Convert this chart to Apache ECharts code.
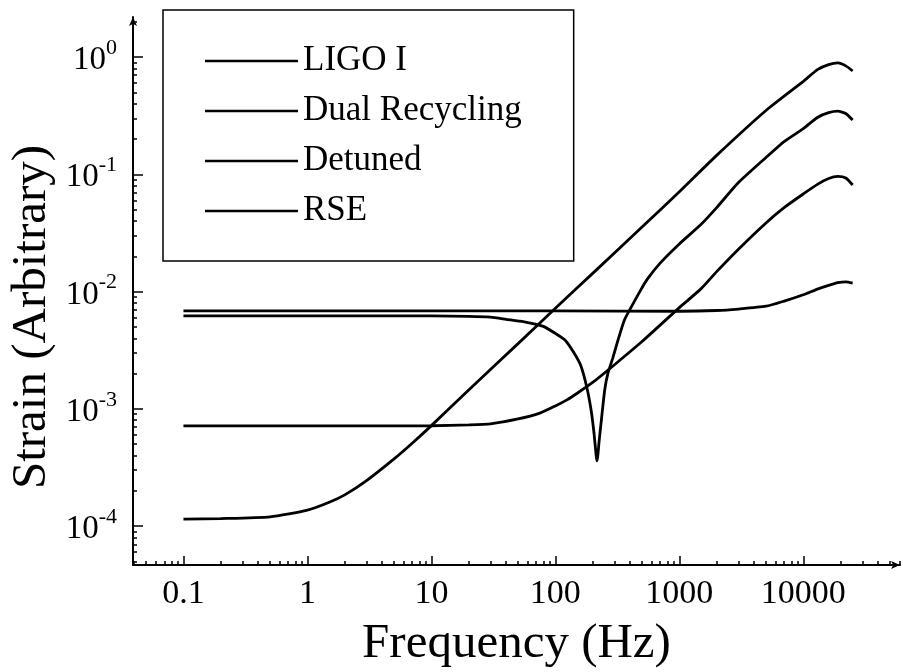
<!DOCTYPE html>
<html><head><meta charset="utf-8">
<script src="https://cdn.jsdelivr.net/npm/echarts@6/dist/echarts.min.js"></script>
<style>html,body{margin:0;padding:0;background:#fff}#c{width:903px;height:672px}</style>
</head><body><div id="c"></div>
<script>
const seriesNames = ['LIGO I', 'Dual Recycling', 'Detuned', 'RSE'];

const freqLigo = [0.1, 0.3, 1, 3, 10, 20, 30, 50, 75, 100, 125, 150, 200, 300, 500, 1000, 1500, 2000, 3000, 5000, 7000, 10000, 13000, 16000, 19000, 22000, 25000];
const valLigo  = [7.15e-4, 7.15e-4, 7.15e-4, 7.15e-4, 7.18e-4, 7.3e-4, 7.45e-4, 8.2e-4, 9.2e-4, 1.06e-3, 1.2e-3, 1.36e-3, 1.68e-3, 2.38e-3, 3.75e-3, 7.3e-3, 1.06e-2, 1.48e-2, 2.3e-2, 3.85e-2, 5.2e-2, 6.8e-2, 8.2e-2, 9.2e-2, 9.6e-2, 9.3e-2, 8.1e-2];

const freqDual = [0.1, 0.2, 0.5, 1, 1.5, 2, 3, 5, 7, 10, 20, 50, 100, 200, 500, 1000, 2000, 5000, 10000, 13000, 16000, 19000, 22000, 25000];
const valDual  = [1.15e-4, 1.16e-4, 1.2e-4, 1.37e-4, 1.6e-4, 1.85e-4, 2.45e-4, 3.75e-4, 5.1e-4, 7.2e-4, 1.45e-3, 3.6e-3, 7.2e-3, 1.43e-2, 3.55e-2, 7.1e-2, 0.145, 0.35, 0.62, 0.78, 0.86, 0.89, 0.84, 0.76];

const freqDetuned = [0.1, 1, 10, 20, 30, 40, 60, 80, 100, 120, 140, 160, 180, 195, 205, 212, 216, 220, 225, 235, 250, 265, 290, 320, 360, 410, 480, 550, 700, 1000, 1500, 2000, 3000, 5000, 7000, 10000, 13000, 16000, 19000, 22000, 25000];
const valDetuned  = [6.2e-3, 6.2e-3, 6.2e-3, 6.15e-3, 6.05e-3, 5.8e-3, 5.45e-3, 5.05e-3, 4.4e-3, 3.85e-3, 3.05e-3, 2.35e-3, 1.5e-3, 9.5e-4, 6.2e-4, 4.3e-4, 3.6e-4, 4.0e-4, 5.2e-4, 8.0e-4, 1.45e-3, 2.0e-3, 2.7e-3, 3.85e-3, 5.7e-3, 7.4e-3, 1.0e-2, 1.27e-2, 1.75e-2, 2.55e-2, 3.75e-2, 5.2e-2, 8.5e-2, 0.139, 0.19, 0.245, 0.305, 0.335, 0.345, 0.33, 0.29];

const freqRSE = [0.1, 1, 10, 100, 1000, 2000, 3000, 5000, 7000, 10000, 13000, 16000, 19000, 22000, 25000];
const valRSE  = [6.85e-3, 6.85e-3, 6.85e-3, 6.85e-3, 6.8e-3, 6.9e-3, 7.1e-3, 7.5e-3, 8.3e-3, 9.4e-3, 1.05e-2, 1.13e-2, 1.19e-2, 1.21e-2, 1.18e-2];

const xTickValues = [0.1, 1, 10, 100, 1000, 10000];
const xTickLabels = ['0.1', '1', '10', '100', '1000', '10000'];
const yTickValues = [1e-4, 1e-3, 1e-2, 1e-1, 1];
const yTickExponents = ['-4', '-3', '-2', '-1', '0'];

const xMin = Math.pow(10, -1.407), xMax = Math.pow(10, 4.78);
const yMin = Math.pow(10, -4.331), yMax = Math.pow(10, 0.341);

function minorTicks(lo, hi) {
  const out = [];
  for (let k = -6; k <= 6; k++) for (let m = 2; m <= 9; m++) {
    const v = m * Math.pow(10, k);
    if (v > lo && v < hi) out.push(v);
  }
  return out;
}
const xMinor = minorTicks(xMin, xMax);
const yMinor = minorTicks(yMin, yMax);

const FONT = 'Liberation Serif';
function idxOf(arr, v) {
  const lv = Math.log10(v);
  return arr.findIndex(t => Math.abs(Math.log10(t) - lv) < 1e-6);
}
function pairs(f, v) { return f.map((x, i) => [x, v[i]]); }

const lineBase = { type: 'line', symbol: 'none', showSymbol: false, smooth: 0.2, lineStyle: { color: '#000', width: 2.8 }, itemStyle: { color: '#000' }, xAxisIndex: 0, yAxisIndex: 0 };

const chart = echarts.init(document.getElementById('c'), null, { renderer: 'canvas' });
chart.setOption({
  animation: false,
  backgroundColor: '#fff',
  grid: { left: 133, right: 3, top: 17, bottom: 107, containLabel: false, outerBoundsMode: 'none' },
  legend: {
    data: seriesNames, orient: 'vertical', left: 163, top: 10,
    padding: [31, 52, 30, 42], borderColor: '#000', borderWidth: 1.5,
    icon: 'rect', itemWidth: 93, itemHeight: 2.5, itemGap: 10,
    itemStyle: { color: '#000' },
    textStyle: { fontFamily: FONT, fontSize: 35, color: '#000', lineHeight: 40 }
  },
  xAxis: [{
    type: 'log', logBase: 10, min: xMin, max: xMax,
    axisLine: { lineStyle: { color: '#000', width: 2 }, symbol: ['none', 'arrow'], symbolSize: [6, 9] },
    axisTick: { inside: true, length: 9, customValues: xTickValues, lineStyle: { color: '#000', width: 1.5 } },
    axisLabel: { customValues: xTickValues, margin: 12, fontFamily: FONT, fontSize: 34, color: '#000',
      formatter: v => xTickLabels[idxOf(xTickValues, v)] },
    splitLine: { show: false }, minorTick: { show: false },
    name: 'Frequency (Hz)', nameLocation: 'middle', nameGap: 55,
    nameTextStyle: { fontFamily: FONT, fontSize: 49, color: '#000' }
  }, {
    type: 'log', logBase: 10, min: xMin, max: xMax, position: 'bottom', gridIndex: 0,
    axisLine: { show: false }, axisLabel: { show: false }, splitLine: { show: false },
    axisTick: { inside: true, length: 4, customValues: xMinor, lineStyle: { color: '#000', width: 1.5 } }
  }],
  yAxis: [{
    type: 'log', logBase: 10, min: yMin, max: yMax,
    axisLine: { lineStyle: { color: '#000', width: 2 }, symbol: ['none', 'arrow'], symbolSize: [6, 9] },
    axisTick: { inside: true, length: 10, customValues: yTickValues, lineStyle: { color: '#000', width: 1.5 } },
    axisLabel: { customValues: yTickValues, margin: 16, color: '#000',
      formatter: v => '{b|10}{s|' + yTickExponents[idxOf(yTickValues, v)] + '}',
      rich: {
        b: { fontFamily: FONT, fontSize: 33, color: '#000', lineHeight: 40, verticalAlign: 'bottom' },
        s: { fontFamily: FONT, fontSize: 22, color: '#000', lineHeight: 40, verticalAlign: 'top' }
      } },
    splitLine: { show: false }, minorTick: { show: false }
  }, {
    type: 'log', logBase: 10, min: yMin, max: yMax, position: 'left', gridIndex: 0,
    axisLine: { show: false }, axisLabel: { show: false }, splitLine: { show: false },
    axisTick: { inside: true, length: 4, customValues: yMinor, lineStyle: { color: '#000', width: 1.5 } }
  }],
  graphic: [{
    type: 'text', x: 32, y: 317, rotation: Math.PI / 2,
    style: { text: 'Strain (Arbitrary)', font: '49px "Liberation Serif"', fill: '#000',
      align: 'center', verticalAlign: 'middle', textAlign: 'center', textVerticalAlign: 'middle' }
  }],
  series: [
    Object.assign({ name: seriesNames[0], data: pairs(freqLigo, valLigo) }, lineBase),
    Object.assign({ name: seriesNames[1], data: pairs(freqDual, valDual) }, lineBase),
    Object.assign({ name: seriesNames[2], data: pairs(freqDetuned, valDetuned) }, lineBase),
    Object.assign({ name: seriesNames[3], data: pairs(freqRSE, valRSE) }, lineBase)
  ]
});
</script></body></html>
